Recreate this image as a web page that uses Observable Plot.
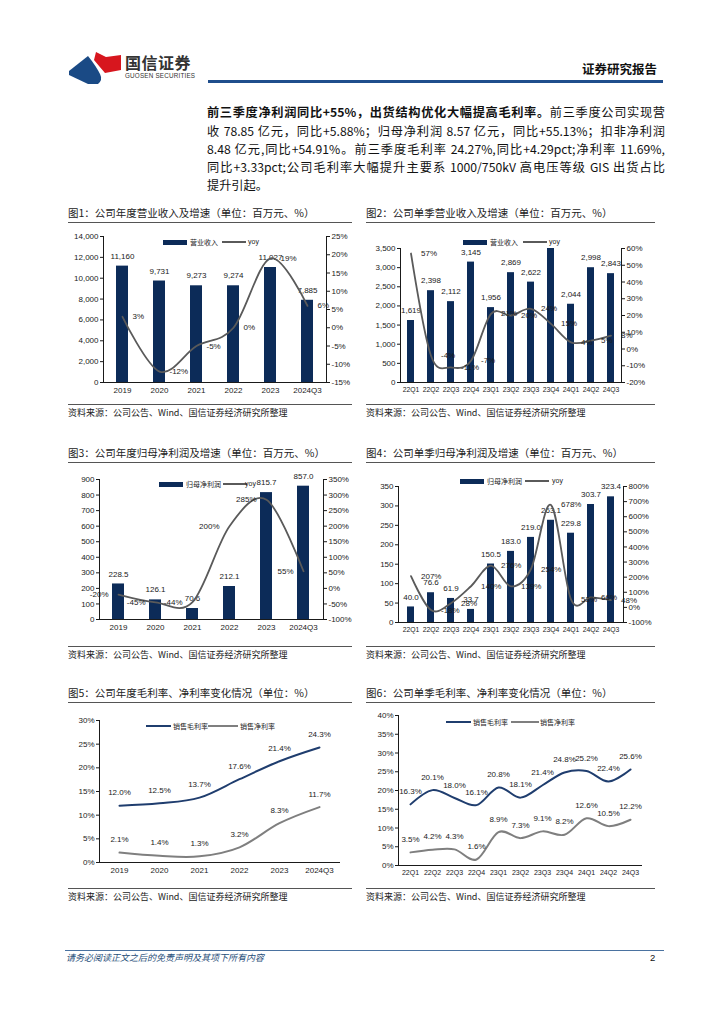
<!DOCTYPE html>
<html><head><meta charset="utf-8">
<script src="https://cdn.jsdelivr.net/npm/d3@7"></script>
<script src="https://cdn.jsdelivr.net/npm/@observablehq/plot@0.6"></script>
<style>
body{margin:0;background:#fff;}
#page{position:relative;width:724px;height:1024px;overflow:hidden;background:#fff;font-family:"Liberation Sans",Arial,"Noto Sans CJK SC",sans-serif;color:#1a1a1a;}
#page div{white-space:nowrap;}
.cjk{font-family:"Noto Sans CJK SC","Liberation Sans",sans-serif;}
</style></head>
<body><div id="page"></div>
<script>
// ---------------- data ----------------
const yearCats = ["2019","2020","2021","2022","2023","2024Q3"];
const quarterCats = ["22Q1","22Q2","22Q3","22Q4","23Q1","23Q2","23Q3","23Q4","24Q1","24Q2","24Q3"];

const annualRevenue = [11160, 9731, 9273, 9274, 11027, 7885];
const annualRevenueYoy = [3, -12, -5, 0, 19, 6];
const quarterRevenue = [1619, 2398, 2112, 3145, 1956, 2869, 2622, 3580, 2044, 2998, 2843];
const quarterRevenueYoy = [57, -4, -11, -7, 21, 20, 24, 15, 4, 5, 8];

const annualProfit = [228.5, 126.1, 70.6, 212.1, 815.7, 857.0];
const annualProfitYoy = [-20, -45, -44, 200, 285, 55];
const quarterProfit = [40.0, 76.6, 61.9, 33.7, 150.5, 183.0, 219.0, 263.1, 229.8, 303.7, 323.4];
const quarterProfitYoy = [207, -18, 28, 140, 276, 139, 254, 678, 53, 66, 48];

const annualGross = [12.0, 12.5, 13.7, 17.6, 21.4, 24.3];
const annualNet = [2.1, 1.4, 1.3, 3.2, 8.3, 11.7];
const quarterGross = [16.3, 20.1, 18.0, 16.1, 20.8, 18.1, 21.4, 24.8, 25.2, 22.4, 25.6];
const quarterNet = [3.5, 4.2, 4.3, 1.6, 8.9, 7.3, 9.1, 8.2, 12.6, 10.5, 12.2];

// tick values
const ticksRev1 = [0, 2000, 4000, 6000, 8000, 10000, 12000, 14000];
const ticksYoy1 = [-15, -10, -5, 0, 5, 10, 15, 20, 25];
const ticksRev2 = [0, 500, 1000, 1500, 2000, 2500, 3000, 3500];
const ticksYoy2 = [-20, -10, 0, 10, 20, 30, 40, 50, 60];
const ticksProfit3 = [0, 100, 200, 300, 400, 500, 600, 700, 800, 900];
const ticksYoy3 = [-100, -50, 0, 50, 100, 150, 200, 250, 300, 350];
const ticksProfit4 = [0, 50, 100, 150, 200, 250, 300, 350];
const ticksYoy4 = [-100, 0, 100, 200, 300, 400, 500, 600, 700, 800];
const ticksMargin5 = [0, 5, 10, 15, 20, 25, 30];
const ticksMargin6 = [0, 5, 10, 15, 20, 25, 30, 35, 40];

// ---------------- styles ----------------
const NAVY = "#0c2b58", GRAY = "#5a5a5a", NAVY_LINE = "#1f3d6e", NET_GRAY = "#7f7f7f";
const FONT = '"Liberation Sans", Arial, "Noto Sans CJK SC", sans-serif';
const page = document.getElementById("page");

function el(css, text, cls){
  const e = document.createElement("div");
  e.style.cssText = "position:absolute;" + css;
  if (cls) e.className = cls;
  if (text != null) e.textContent = text;
  page.appendChild(e);
  return e;
}
function hline(x, y, w, color, h){ el(`left:${x}px;top:${y}px;width:${w}px;height:${h||1}px;background:${color};`); }

const ML = 44, MR = 44, MT = 14, MB = 22;
function baseSize(box){
  return {width: box.x2 - box.x1 + ML + MR, height: box.y2 - box.y1 + MT + MB,
    marginLeft: ML, marginRight: MR, marginTop: MT, marginBottom: MB,
    style: {background: "transparent", overflow: "visible", fontFamily: FONT, fontSize: "8px", color: "#1a1a1a"}};
}
function placePlot(svg, box, xFont){
  svg.style.position = "absolute";
  svg.style.left = (box.x1 - ML) + "px";
  svg.style.top = (box.y1 - MT) + "px";
  svg.style.maxWidth = "none";
  if (xFont) svg.querySelectorAll('[aria-label="x-axis tick label"]').forEach(g => {
    g.setAttribute("font-size", xFont);
    g.querySelectorAll("text").forEach(t => t.style.fontSize = xFont + "px");
  });
  page.appendChild(svg);
}

function dualChart(o){
  const rows = o.cats.map((c, i) => ({cat: c, v: o.bars[i], r: o.yoy[i]}));
  const xs = {type: "band", domain: o.cats, paddingInner: 0.67, paddingOuter: 0.335};
  const a = Plot.plot({...baseSize(o.box),
    x: {...xs, tickSize: 0, tickPadding: 5, line: true, label: null},
    y: {domain: o.yDomain, ticks: o.yTicks, tickFormat: o.yFmt, tickSize: 3, tickPadding: 2, line: true, label: null},
    marks: [
      Plot.barY(rows, {x: "cat", y: "v", fill: NAVY, clip: true}),
      Plot.text(rows.filter(d => d.v <= o.yDomain[1]), {x: "cat", y: "v", text: d => o.barFmt(d.v), dy: -10, fontSize: 8, fill: "#1a1a1a"})
    ]});
  placePlot(a, o.box, o.xFont);
  const b = Plot.plot({...baseSize(o.box),
    x: {...xs, axis: null},
    y: {domain: o.rDomain, ticks: o.rTicks, tickFormat: d => d + "%", axis: "right", tickSize: 3, tickPadding: 2, line: true, label: null},
    marks: [
      Plot.line(rows, {x: "cat", y: "r", curve: "cardinal", stroke: GRAY, strokeWidth: 1.8}),
      Plot.text(rows, {x: "cat", y: "r", text: d => d.r + "%", dx: o.labelDx, textAnchor: o.labelDx > 0 ? "start" : "end", fontSize: 8, fill: "#1a1a1a"})
    ]});
  placePlot(b, o.box);
}

function lineChart(o){
  const rows = o.cats.map((c, i) => ({cat: c, g: o.gross[i], n: o.net[i]}));
  const p = Plot.plot({...baseSize(o.box),
    x: {type: "point", domain: o.cats, padding: 0.5, tickSize: 0, tickPadding: 5, line: true, label: null},
    y: {domain: o.yDomain, ticks: o.yTicks, tickFormat: d => d + "%", tickSize: 3, tickPadding: 2, line: true, label: null},
    marks: [
      Plot.line(rows, {x: "cat", y: "g", curve: "cardinal", stroke: NAVY_LINE, strokeWidth: 2}),
      Plot.line(rows, {x: "cat", y: "n", curve: "cardinal", stroke: NET_GRAY, strokeWidth: 2}),
      Plot.text(rows, {x: "cat", y: "g", text: d => d.g.toFixed(1) + "%", dy: -13, fontSize: 8, fill: "#1a1a1a"}),
      Plot.text(rows, {x: "cat", y: "n", text: d => d.n.toFixed(1) + "%", dy: -13, fontSize: 8, fill: "#1a1a1a"})
    ]});
  placePlot(p, o.box, o.xFont);
}

function legendBar(x, y, label, lx, yoyX){
  el(`left:${x}px;top:${y - 2.5}px;width:24px;height:5px;background:${NAVY};`);
  el(`left:${x + 27}px;top:${y - 5}px;font-size:7px;line-height:10px;`, label, "cjk");
  el(`left:${lx}px;top:${y - 0.75}px;width:24px;height:1.5px;background:${GRAY};`);
  el(`left:${yoyX}px;top:${y - 5}px;font-size:7px;line-height:10px;`, "yoy");
}
function legendLines(x1, y, t1, x2, w2, t2x){
  el(`left:${x1}px;top:${y - 1}px;width:25px;height:2px;background:${NAVY_LINE};`);
  el(`left:${x1 + 27}px;top:${y - 5}px;font-size:7px;line-height:10px;`, "销售毛利率", "cjk");
  el(`left:${x2}px;top:${y - 1}px;width:${w2}px;height:2px;background:${NET_GRAY};`);
  el(`left:${t2x}px;top:${y - 5}px;font-size:7px;line-height:10px;`, "销售净利率", "cjk");
}
function frame(x, w, titleY, title, srcLineY){
  el(`left:${x}px;top:${titleY - 7}px;font-size:10.5px;line-height:14px;color:#222;`, title, "cjk");
  hline(x, titleY + 9, w, "#555", 1.2);
  hline(x, srcLineY, w, "#555", 1.2);
  el(`left:${x}px;top:${srcLineY + 3}px;font-size:9px;line-height:12px;color:#222;`, "资料来源：公司公告、Wind、国信证券经济研究所整理", "cjk");
}

// ---------------- header ----------------
const logo = document.createElementNS("http://www.w3.org/2000/svg", "svg");
logo.setAttribute("width", "60"); logo.setAttribute("height", "40");
logo.style.cssText = "position:absolute;left:66px;top:48px;";
logo.innerHTML = '<path d="M30 4 L40 9 L55 7 L55 22 L39 25 Q33 18 28 12 Z" fill="#d7161e"/>' +
  '<path d="M3 23 L22 8 Q30 18 34 26 Q37 32 32 36 L22 36 L3 27 Z" fill="#1a4a85"/>';
page.appendChild(logo);
el("left:125px;top:52px;font-size:16px;line-height:20px;font-weight:bold;color:#333;letter-spacing:0.5px;", "国信证券", "cjk");
el("left:125px;top:72px;font-size:6.3px;line-height:8px;color:#333;letter-spacing:0.2px;", "GUOSEN SECURITIES");
el("left:582px;top:61px;font-size:12.5px;line-height:16px;font-weight:bold;color:#111;", "证券研究报告", "cjk");
hline(208, 80, 455, "#1f4e8c", 2.5);

// ---------------- body text ----------------
const bodyLines = [
  null,
  "收 78.85 亿元，同比+5.88%；归母净利润 8.57 亿元，同比+55.13%；扣非净利润",
  "8.48 亿元,同比+54.91%。前三季度毛利率 24.27%,同比+4.29pct;净利率 11.69%,",
  "同比+3.33pct;公司毛利率大幅提升主要系 1000/750kV 高电压等级 GIS 出货占比",
  "提升引起。"
];
const bodyY = [112, 131, 149, 167, 185];
bodyLines.forEach((t, i) => {
  const d = el(`left:207px;top:${bodyY[i] - 9}px;width:458px;font-size:12.2px;line-height:18px;color:#111;` +
    (i < 4 ? "text-align:justify;text-align-last:justify;" : ""), null, "cjk");
  if (t === null) {
    const b = document.createElement("b"); b.textContent = "前三季度净利润同比+55%，出货结构优化大幅提高毛利率。";
    d.appendChild(b); d.appendChild(document.createTextNode("前三季度公司实现营"));
  } else d.textContent = t;
});

// ---------------- frames ----------------
frame(68, 284, 213, "图1：公司年度营业收入及增速（单位：百万元、%）", 404);
frame(366, 289, 213, "图2：公司单季营业收入及增速（单位：百万元、%）", 404);
frame(68, 284, 453, "图3：公司年度归母净利润及增速（单位：百万元、%）", 646);
frame(366, 289, 453, "图4：公司单季归母净利润及增速（单位：百万元、%）", 646);
frame(68, 284, 693, "图5：公司年度毛利率、净利率变化情况（单位：%）", 888);
frame(366, 289, 693, "图6：公司单季毛利率、净利率变化情况（单位：%）", 888);

// ---------------- charts ----------------
const fmtComma = d3.format(",");
const fmt1 = d3.format(".1f");

dualChart({box: {x1: 103, x2: 326, y1: 236, y2: 382}, cats: yearCats, bars: annualRevenue, yoy: annualRevenueYoy,
  yDomain: [0, 14000], yTicks: ticksRev1, yFmt: fmtComma, rDomain: [-15, 25], rTicks: ticksYoy1, barFmt: fmtComma, labelDx: 10});
legendBar(163, 242, "营业收入", 222, 248);

dualChart({box: {x1: 400, x2: 621, y1: 248, y2: 382}, cats: quarterCats, bars: quarterRevenue, yoy: quarterRevenueYoy,
  yDomain: [0, 3500], yTicks: ticksRev2, yFmt: fmtComma, rDomain: [-20, 60], rTicks: ticksYoy2, barFmt: fmtComma, labelDx: 10, xFont: 6.8});
legendBar(463, 242, "营业收入", 523, 549);

dualChart({box: {x1: 99, x2: 323, y1: 479, y2: 619}, cats: yearCats, bars: annualProfit, yoy: annualProfitYoy,
  yDomain: [0, 900], yTicks: ticksProfit3, yFmt: d => d, rDomain: [-100, 350], rTicks: ticksYoy3, barFmt: fmt1, labelDx: -10});
legendBar(159, 484, "归母净利润", 223, 245);

dualChart({box: {x1: 398, x2: 623, y1: 486, y2: 622}, cats: quarterCats, bars: quarterProfit, yoy: quarterProfitYoy,
  yDomain: [0, 350], yTicks: ticksProfit4, yFmt: d => d, rDomain: [-100, 800], rTicks: ticksYoy4, barFmt: fmt1, labelDx: 10, xFont: 6.8});
legendBar(460, 481, "归母净利润", 525, 552);

lineChart({box: {x1: 99, x2: 339, y1: 720, y2: 862}, cats: yearCats, gross: annualGross, net: annualNet,
  yDomain: [0, 30], yTicks: ticksMargin5});
legendLines(146, 726, "销售毛利率", 208, 30, 240);

lineChart({box: {x1: 398, x2: 641, y1: 715, y2: 865}, cats: quarterCats, gross: quarterGross, net: quarterNet,
  yDomain: [0, 40], yTicks: ticksMargin6, xFont: 7});
legendLines(446, 722, "销售毛利率", 511, 28, 540);

// ---------------- footer ----------------
hline(65, 950, 599, "#4a72a0", 1);
el("left:66px;top:952px;font-size:9px;line-height:12px;font-style:italic;color:#1f4e79;", "请务必阅读正文之后的免责声明及其项下所有内容", "cjk");
el("left:650px;top:952px;font-size:9.5px;line-height:12px;color:#111;", "2");
</script>
</body></html>
